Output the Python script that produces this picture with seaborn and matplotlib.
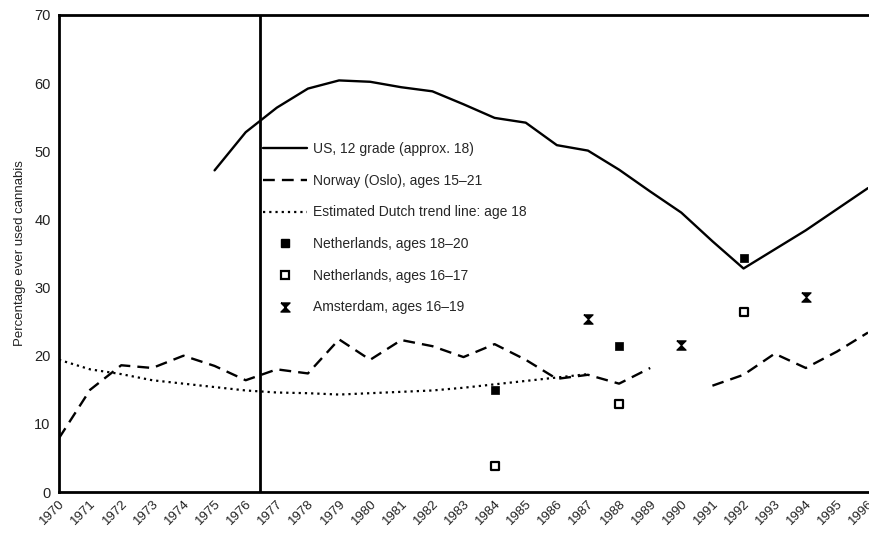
import numpy as np
import pandas as pd
import matplotlib
matplotlib.use("Agg")
import matplotlib.pyplot as plt
from matplotlib.lines import Line2D
import seaborn as sns

# US, 12th grade
us_years = list(range(1975, 1997))
us_vals = [47.2, 52.8, 56.4, 59.2, 60.4, 60.2, 59.4, 58.8, 56.9, 54.9, 54.2,
           50.9, 50.1, 47.3, 44.1, 41.0, 36.8, 32.8, 35.6, 38.4, 41.5, 44.6]

# Norway (Oslo), gap between 1989 and 1991
no_years_a = list(range(1970, 1990))
no_vals_a = [7.9, 15.0, 18.6, 18.2, 20.0, 18.5, 16.4, 18.0, 17.4, 22.4, 19.4,
             22.3, 21.4, 19.8, 21.7, 19.4, 16.6, 17.2, 15.9, 18.2]
no_years_b = list(range(1991, 1997))
no_vals_b = [15.6, 17.2, 20.3, 18.2, 20.6, 23.4]

# estimated Dutch trend line
nl_trend_years = list(range(1970, 1988))
nl_trend_vals = [19.4, 18.0, 17.3, 16.4, 15.9, 15.4, 14.9, 14.6, 14.5, 14.3,
                 14.5, 14.7, 14.9, 15.3, 15.8, 16.3, 16.8, 17.3]

nl1820_years = [1984, 1988, 1992]
nl1820_vals = [14.9, 21.4, 34.4]

nl1617_years = [1984, 1988, 1992]
nl1617_vals = [3.8, 12.9, 26.4]

ams_years = [1987, 1990, 1994]
ams_vals = [25.4, 21.6, 28.6]

yticks = [0, 10, 20, 30, 40, 50, 60, 70]
xticks = list(range(1970, 1997))

sns.set_theme(style="white")
plt.rcParams['font.family'] = ['Liberation Sans', 'DejaVu Sans']

fig = plt.figure(figsize=(8.69, 5.34), dpi=100)
ax = fig.add_axes([59 / 869, 1 - 492 / 534, 809 / 869, 477 / 534])

k = "black"
us_df = pd.DataFrame({"year": us_years, "val": us_vals})
sns.lineplot(data=us_df, x="year", y="val", color=k, lw=1.7, ax=ax)

no_df = pd.DataFrame({
    "year": no_years_a + no_years_b,
    "val": no_vals_a + no_vals_b,
    "seg": ["a"] * len(no_years_a) + ["b"] * len(no_years_b),
})
sns.lineplot(data=no_df, x="year", y="val", units="seg", estimator=None,
             color=k, lw=1.7, ax=ax, linestyle=(0, (5, 3)))

tr_df = pd.DataFrame({"year": nl_trend_years, "val": nl_trend_vals})
sns.lineplot(data=tr_df, x="year", y="val", color=k, lw=1.6, ax=ax,
             linestyle=(0, (1, 1.8)))

hourglass = [(-1, 1), (1, 1), (-1, -1), (1, -1), (-1, 1)]

sns.scatterplot(x=nl1820_years, y=nl1820_vals, marker="s", s=40, color=k,
                edgecolor=k, ax=ax, zorder=5)
sns.scatterplot(x=nl1617_years, y=nl1617_vals, marker="s", s=30, color="white",
                edgecolor=k, linewidth=1.6, ax=ax, zorder=5)
sns.scatterplot(x=ams_years, y=ams_vals, marker=hourglass, s=45, color=k,
                edgecolor=k, linewidth=0.8, ax=ax, zorder=5)

# vertical line
ax.axvline(1976.45, color=k, lw=2)

ax.set_xlim(1970, 1996)
ax.set_ylim(0, 70)
ax.set_xticks(xticks)
ax.set_xticklabels([str(y) for y in xticks], rotation=45, ha="right",
                   rotation_mode="anchor", fontsize=9.5, color="#222222")
ax.set_yticks(yticks)
ax.set_yticklabels([str(v) for v in yticks], fontsize=10.5, color="#222222")
ax.tick_params(axis="x", direction="in", length=4, width=0.8, colors="#444444",
               labelcolor="#222222", pad=4)
ax.tick_params(axis="y", direction="out", length=4, width=0.8, colors="#444444",
               labelcolor="#222222", pad=2)
ax.set_xlabel("")
ax.set_ylabel("Percentage ever used cannabis", fontsize=9.5, color="#222222",
              labelpad=6)

for side in ["left", "bottom", "top"]:
    ax.spines[side].set_color(k)
    ax.spines[side].set_linewidth(2)
ax.spines["right"].set_visible(False)

handles = [
    Line2D([], [], color=k, lw=1.7),
    Line2D([], [], color=k, lw=1.7, linestyle=(0, (5, 3))),
    Line2D([], [], color=k, lw=1.6, linestyle=(0, (1, 1.8))),
    Line2D([], [], color=k, marker="s", markersize=6, linestyle="none"),
    Line2D([], [], color=k, marker="s", markersize=5.5, markerfacecolor="white",
           markeredgewidth=1.6, linestyle="none"),
    Line2D([], [], color=k, marker=hourglass, markersize=6.5, linestyle="none"),
]
labels = ["US, 12 grade (approx. 18)", "Norway (Oslo), ages 15\u201321",
          "Estimated Dutch trend line: age 18", "Netherlands, ages 18\u201320",
          "Netherlands, ages 16\u201317", "Amsterdam, ages 16\u201319"]
ax.legend(handles, labels, loc="upper left", bbox_to_anchor=(0.245, 0.745),
          frameon=False, fontsize=10, handlelength=3.2, handletextpad=0.45,
          labelspacing=1.27, borderaxespad=0)

fig.savefig("out.png", dpi=100)
